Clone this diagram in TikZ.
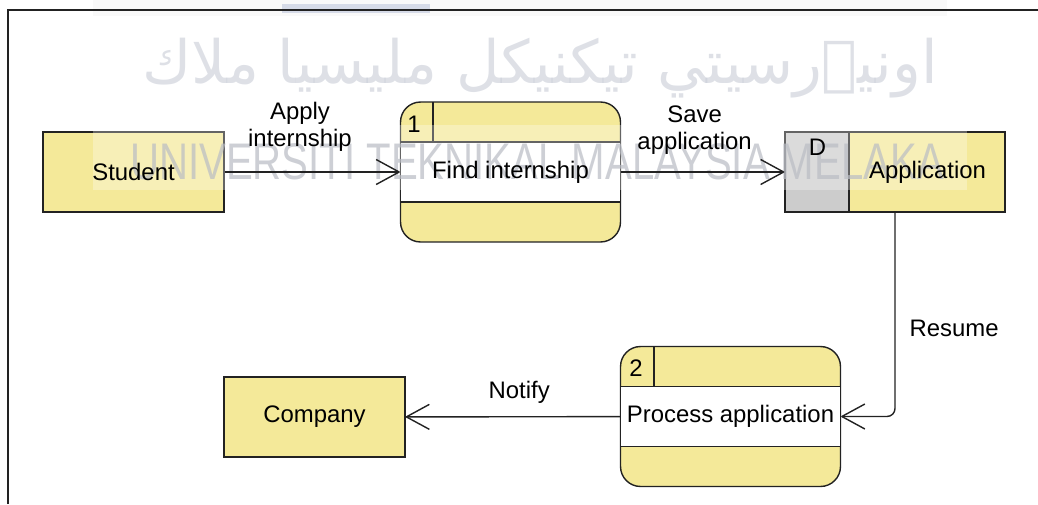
\documentclass[tikz,border=0pt]{standalone}
\usepackage{fontspec}
\setmainfont{Liberation Sans}
\newfontfamily\markfont[FakeStretch=0.78]{Liberation Sans}
\newfontfamily\jawifont[Script=Arabic]{DejaVu Sans}
\TeXXeTstate=1
\usetikzlibrary{arrows.meta}

\definecolor{dfdyellow}{RGB}{244,233,153}
\definecolor{dfdgray}{RGB}{204,204,204}
\definecolor{dfdline}{RGB}{34,34,34}
\definecolor{markgray}{RGB}{185,188,196}
\definecolor{markjawi}{RGB}{200,204,214}
\definecolor{markbar}{RGB}{214,219,232}

\tikzset{
  every node/.style={font=\fontsize{13.6}{15.3}\selectfont},
  entity/.style={draw=dfdline, fill=dfdyellow, line width=0.8pt,
    minimum width=3.62cm, minimum height=1.6cm, inner sep=0pt},
  process/.style={draw=dfdline, fill=dfdyellow, line width=0.8pt,
    rounded corners=0.4cm, minimum width=4.4cm, minimum height=2.8cm, inner sep=0pt},
  band/.style={draw=dfdline, fill=white, line width=0.8pt,
    minimum width=4.4cm, minimum height=1.2cm, inner sep=0pt},
  store/.style={draw=dfdline, fill=dfdyellow, line width=0.8pt,
    minimum width=4.4cm, minimum height=1.6cm, inner sep=0pt},
  part/.style={draw=dfdline, line width=0.8pt},
  flow/.style={draw=dfdline, line width=0.8pt,
    -{Straight Barb[length=0.46cm, width=0.5cm, line join=round]}},
  flowlabel/.style={inner sep=0pt, align=center},
}

\begin{document}
\begin{tikzpicture}[x=0.02cm, y=-0.02cm]
\useasboundingbox (0,0) rectangle (1038,504);

% frame
\fill[gray!5] (93,0) rectangle (947,16);
\fill[markbar] (282,4) rectangle (430,13);
\draw[dfdline, line width=1pt] (8,504) -- (8,10) -- (1038,10);

% external entities
\node[entity] (student) at (133.5,172) {};
\node[entity] (company) at (314.5,417) {};

% processes
\node[process] (find) at (510.5,172) {};
\node[band] (findband) at (find.center) {};
\draw[part] (433,102) -- (433,142);
\node[process] (proc) at (730.5,416.5) {};
\node[band] (procband) at (proc.center) {};
\draw[part] (654,346.5) -- (654,386.5);

% data store
\node[store] (app) at (895,172) {};
\draw[part, fill=dfdgray] (785,132) rectangle (849,212);

% watermark
\fill[white, opacity=0.3] (93,125) rectangle (967,190);
\node[markjawi, opacity=0.6, inner sep=0pt] (markjawi) at (540,68)
  {\jawifont\fontsize{34}{36}\selectfont\beginR اونيۏرسيتي تيكنيكل مليسيا ملاك\endR};
\node[markgray, opacity=0.7, inner sep=0pt] (markname) at (537,162)
  {\markfont\fontsize{29.3}{30}\selectfont UNIVERSITI TEKNIKAL MALAYSIA MELAKA};

% names
\node (studentname) at (student) {Student};
\node (companyname) at (company) {Company};
\node (findname) at (findband) {Find internship};
\node (findid) at (414,124) {1};
\node (procname) at (procband) {Process application};
\node (procid) at (636,368) {2};
\node (appid) at (817.5,147) {D};
\node (appname) at (927.5,172) {Application};

% data flows
\draw[flow] (student) -- (findband)
  node[flowlabel, pos=0.43, above=0.40cm] {Apply\\internship};
\draw[flow] (findband) -- (app)
  node[flowlabel, pos=0.45, above=0.33cm] {Save\\application};
\draw[flow, rounded corners=0.16cm] (app.south) |- (procband.east)
  node[flowlabel, pos=0.285, right=0.28cm] {Resume};
\draw[flow] (procband) -- (company)
  node[flowlabel, pos=0.47, above=0.26cm] {Notify};
\end{tikzpicture}
\end{document}
